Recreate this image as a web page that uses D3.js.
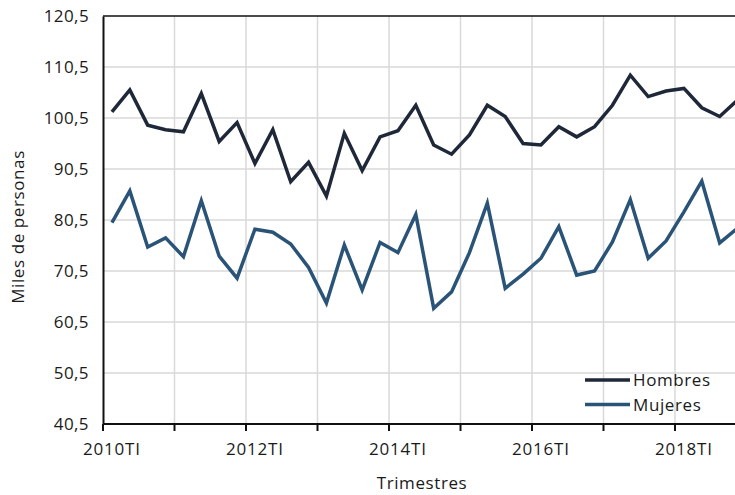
<!DOCTYPE html>
<html>
<head>
<meta charset="utf-8">
<script src="https://cdn.jsdelivr.net/npm/d3@7"></script>
<style>
  body { margin: 0; background: #fff; }
  svg { display: block; font-family: "Open Sans", "Noto Sans", sans-serif; }
</style>
</head>
<body>
<div id="chart"></div>
<script>
// quarters 2010TI .. 2018TIV
const years = [2010, 2011, 2012, 2013, 2014, 2015, 2016, 2017, 2018];
const quarters = ["TI", "TII", "TIII", "TIV"];
const categories = years.flatMap(y => quarters.map(q => y + q));

const hombres = [101.7, 106.0, 99.1, 98.2, 97.8, 105.3, 95.9, 99.6, 91.6, 98.2, 88.0, 91.8,
                 85.2, 97.5, 90.2, 96.8, 98.0, 103.0, 95.2, 93.4, 97.2, 103.0, 100.8, 95.5,
                 95.2, 98.8, 96.8, 98.8, 103.0, 108.9, 104.7, 105.8, 106.3, 102.5, 100.8, 104.0];
const mujeres = [80.0, 86.2, 75.2, 77.0, 73.3, 84.3, 73.4, 69.1, 78.7, 78.1, 75.8, 71.2,
                 64.2, 75.6, 66.8, 76.1, 74.1, 81.6, 63.2, 66.4, 74.1, 83.8, 67.1, 69.9,
                 73.0, 79.2, 69.7, 70.5, 76.2, 84.5, 73.0, 76.4, 82.1, 88.1, 76.0, 78.9];

const yTicks = [40.5, 50.5, 60.5, 70.5, 80.5, 90.5, 100.5, 110.5, 120.5];
const xLabels = ["2010TI", "2012TI", "2014TI", "2016TI", "2018TI"];
const series = [
  { name: "Hombres", values: hombres, color: "#1e2839" },
  { name: "Mujeres", values: mujeres, color: "#2a5378" }
];

const width = 735, height = 495;
const margin = { top: 16, left: 103, bottom: 71 };
const plotBottom = height - margin.bottom;

const svg = d3.select("#chart").append("svg")
    .attr("width", width)
    .attr("height", height);

const x = d3.scaleBand()
    .domain(categories)
    .range([margin.left, margin.left + 17.875 * categories.length])
    .paddingInner(0).paddingOuter(0);

const y = d3.scaleLinear()
    .domain([40.5, 120.5])
    .range([plotBottom, margin.top]);

const fmt = d => d.toFixed(1).replace(".", ",");

// horizontal grid
svg.append("g")
  .selectAll("line")
  .data(yTicks.slice(1, -1))
  .join("line")
    .attr("x1", margin.left).attr("x2", width)
    .attr("y1", d => y(d)).attr("y2", d => y(d))
    .attr("stroke", "#d9d9d9").attr("stroke-width", 1.5);

// vertical grid at year boundaries
const yearStarts = categories.filter((c, i) => i % 4 === 0);
svg.append("g")
  .selectAll("line")
  .data(yearStarts.slice(1))
  .join("line")
    .attr("x1", d => x(d)).attr("x2", d => x(d))
    .attr("y1", margin.top).attr("y2", plotBottom)
    .attr("stroke", "#d9d9d9").attr("stroke-width", 1.5);

// top border
svg.append("line")
    .attr("x1", margin.left).attr("x2", width)
    .attr("y1", y(120.5)).attr("y2", y(120.5))
    .attr("stroke", "#111").attr("stroke-width", 1.5);

// y axis
const yAxis = svg.append("g")
    .attr("transform", `translate(${margin.left},0)`)
    .call(d3.axisLeft(y).tickValues(yTicks).tickFormat(fmt).tickSize(0).tickPadding(14));
yAxis.select(".domain").attr("stroke", "#111").attr("stroke-width", 2);
yAxis.selectAll("text").attr("font-size", 17).attr("fill", "#1a1a1a")
    .attr("font-family", "Open Sans, sans-serif").attr("letter-spacing", 0.4);

// x axis: tick marks at year boundaries
const xAxis = svg.append("g")
    .attr("transform", `translate(0,${plotBottom})`)
    .call(d3.axisBottom(x).tickValues(yearStarts).tickFormat("").tickSize(7).offset(0));
xAxis.selectAll(".tick").attr("transform", d => `translate(${x(d)},0)`);
xAxis.select(".domain").attr("d", `M${margin.left},0H${width}`).attr("stroke", "#111").attr("stroke-width", 2);
xAxis.selectAll(".tick line").attr("stroke", "#111").attr("stroke-width", 2);

// x labels centred on their quarter
svg.append("g")
  .selectAll("text")
  .data(xLabels)
  .join("text")
    .attr("x", d => x(d) + x.bandwidth() / 2)
    .attr("y", plotBottom + 31)
    .attr("text-anchor", "middle")
    .attr("font-size", 17)
    .attr("letter-spacing", 0.8)
    .attr("fill", "#1a1a1a")
    .text(d => d);

// lines
const line = d3.line()
    .x((d, i) => x(categories[i]) + x.bandwidth() / 2)
    .y(d => y(d));

svg.append("g")
  .selectAll("path")
  .data(series)
  .join("path")
    .attr("d", d => line(d.values))
    .attr("fill", "none")
    .attr("stroke", d => d.color)
    .attr("stroke-width", 3.5)
    .attr("stroke-linejoin", "miter");

// legend
const legend = svg.append("g")
  .selectAll("g")
  .data(series)
  .join("g")
    .attr("transform", (d, i) => `translate(585,${380 + i * 24.5})`);
legend.append("line")
    .attr("x1", 0).attr("x2", 45)
    .attr("stroke", d => d.color).attr("stroke-width", 3.5);
legend.append("text")
    .attr("x", 48).attr("y", 6)
    .attr("font-size", 17)
    .attr("letter-spacing", 0.6)
    .attr("fill", "#1a1a1a")
    .text(d => d.name);

// axis titles
svg.append("text")
    .attr("x", 422).attr("y", 489)
    .attr("text-anchor", "middle")
    .attr("font-size", 17)
    .attr("letter-spacing", 0.6)
    .attr("fill", "#1a1a1a")
    .text("Trimestres");

svg.append("text")
    .attr("transform", "translate(24,227) rotate(-90)")
    .attr("text-anchor", "middle")
    .attr("font-size", 17)
    .attr("letter-spacing", 0.6)
    .attr("fill", "#1a1a1a")
    .text("Miles de personas");
</script>
</body>
</html>
